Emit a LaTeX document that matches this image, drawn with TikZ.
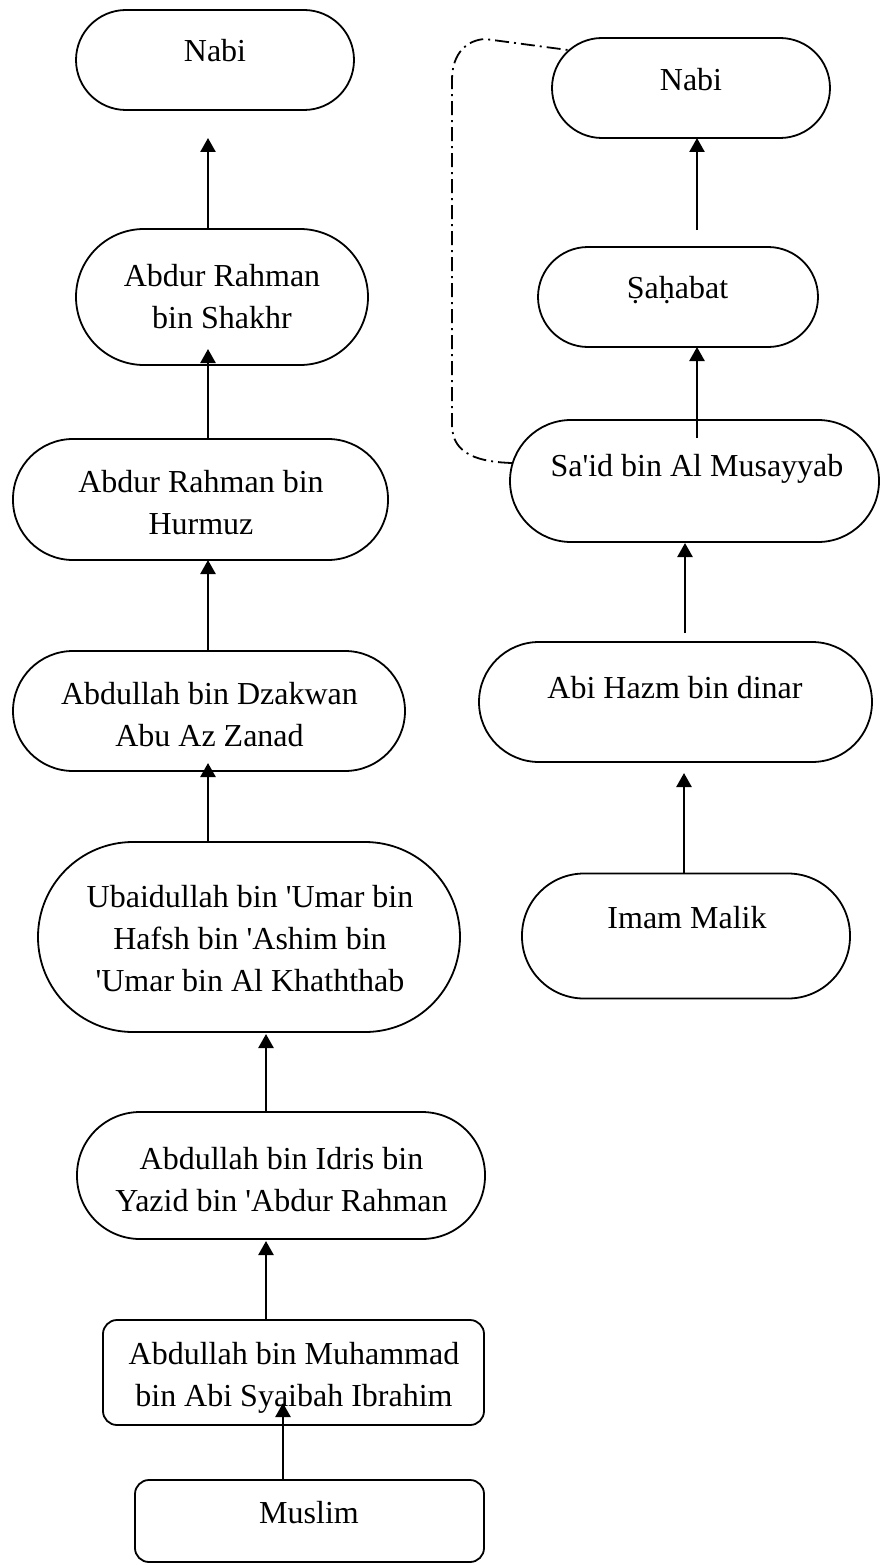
\documentclass[tikz,border=0pt]{standalone}
\usepackage{fontspec}
\setmainfont{Liberation Serif}
\usetikzlibrary{arrows.meta,calc}
% invisible strut so every text line has the same height and depth
\newcommand\sk{\rule[-7pt]{0pt}{35pt}}
\begin{document}
\begin{tikzpicture}[x=1pt,y=-1pt,
  stad/.style n args={3}{draw=black,line width=1.8pt,fill=white,rectangle,
    rounded corners=#3,minimum width=#1,minimum height=#2,inner sep=0pt,outer sep=0pt},
  lbl/.style={font=\fontsize{32}{42}\selectfont,align=center,inner sep=0pt},
  arr/.style={line width=2.5pt,-{Triangle[width=15pt,length=14pt]}},
  dd/.style={line width=1.8pt,dash pattern=on 14pt off 5pt on 2pt off 5pt}]
\useasboundingbox[fill=white] (0,0) rectangle (880,1565);

% left chain
\node[stad={278pt}{100pt}{50pt}] (nabiL) at (215,60) {};
\node[stad={292pt}{136pt}{68pt}] (shakhr) at (222,297) {};
\node[stad={375pt}{121pt}{60pt}] (hurmuz) at (200.5,499.5) {};
\node[stad={392pt}{120pt}{60pt}] (dzakwan) at (209,711) {};
\node[stad={422pt}{190pt}{95pt}] (ubaid) at (249,937) {};
\node[stad={408pt}{127pt}{63pt}] (idris) at (281,1175.5) {};
\node[stad={381pt}{105pt}{14pt}] (muhammad) at (293.5,1372.5) {};
\node[stad={349pt}{82pt}{14pt}] (muslim) at (309.5,1521) {};

\node[lbl] (tnabiL) at (215,51) {\sk Nabi};
\node[lbl] (tshakhr) at (222,297) {\sk Abdur Rahman\\\sk bin Shakhr};
\node[lbl] (thurmuz) at (201,503) {\sk Abdur Rahman bin\\\sk Hurmuz};
\node[lbl] (tdzakwan) at (209.5,715) {\sk Abdullah bin Dzakwan\\\sk Abu Az Zanad};
\node[lbl] (tubaid) at (250,939) {\sk Ubaidullah bin \textquotesingle Umar bin\\\sk Hafsh bin \textquotesingle Ashim bin\\\sk \textquotesingle Umar bin Al Khaththab};
\node[lbl] (tidris) at (281.5,1180) {\sk Abdullah bin Idris bin\\\sk Yazid bin \textquotesingle Abdur Rahman};
\node[lbl] (tmuhammad) at (294,1375) {\sk Abdullah bin Muhammad\\\sk bin Abi Syaibah Ibrahim};
\node[lbl] (tmuslim) at (309,1513) {\sk Muslim};

% right chain
\node[stad={278pt}{100pt}{50pt}] (nabiR) at (691,88) {};
\node[stad={280pt}{100pt}{50pt}] (sahabat) at (678,297) {};
\node[stad={369pt}{122pt}{61pt}] (said) at (694.5,481) {};
\node[stad={393pt}{120pt}{60pt}] (hazm) at (675.5,702) {};
\node[stad={328pt}{125pt}{62pt}] (imam) at (686,936) {};

\node[lbl] (tnabiR) at (691,80) {\sk Nabi};
\node[lbl] (tsahabat) at (677.5,288) {\sk Ṣaḥabat};
\node[lbl] (tsaid) at (697,466) {\sk Sa\textquotesingle id bin Al Musayyab};
\node[lbl] (thazm) at (675,688) {\sk Abi Hazm bin dinar};
\node[lbl] (timam) at (687,918) {\sk Imam Malik};

% left arrows
\draw[arr] ($(shakhr.north)+(-14,0)$) -- ($(nabiL.south)+(-7,28)$);
\draw[arr] ($(hurmuz.north)+(7.5,0)$) -- ($(shakhr.south)+(-14,-16)$);
\draw[arr] ($(dzakwan.north)+(-1,0)$) -- ($(hurmuz.south)+(7.5,0)$);
\draw[arr] ($(ubaid.north)+(-41,0)$) -- ($(dzakwan.south)+(-1,-8)$);
\draw[arr] ($(idris.north)+(-15,0)$) -- ($(ubaid.south)+(17,2)$);
\draw[arr] ($(muhammad.north)+(-27.5,0)$) -- ($(idris.south)+(-15,2)$);
\draw[arr] ($(muslim.north)+(-26.5,0)$) -- ($(muhammad.south)+(-10.5,-22)$);

% right arrows
\draw[arr] ($(sahabat.north)+(19,-17)$) -- ($(nabiR.south)+(6,0)$);
\draw[arr] ($(said.north)+(2.5,18)$) -- ($(sahabat.south)+(19,0)$);
\draw[arr] ($(hazm.north)+(9.5,-9)$) -- ($(said.south)+(-9.5,1)$);
\draw[arr] ($(imam.north)+(-2,0)$) -- ($(hazm.south)+(8.5,11)$);

% dash-dot link from Sa'id back up to Nabi
\coordinate (ddstart) at ($(said.west)+(2,-18)$);
\coordinate (ddend) at ($(nabiR.west)+(16,-38)$);
\draw[dd] (ddstart) .. controls (480,462) and (452,455) .. (452,425)
  -- (452,80) .. controls (452,52) and (468,40) .. (485,39) -- (ddend);
\end{tikzpicture}
\end{document}
